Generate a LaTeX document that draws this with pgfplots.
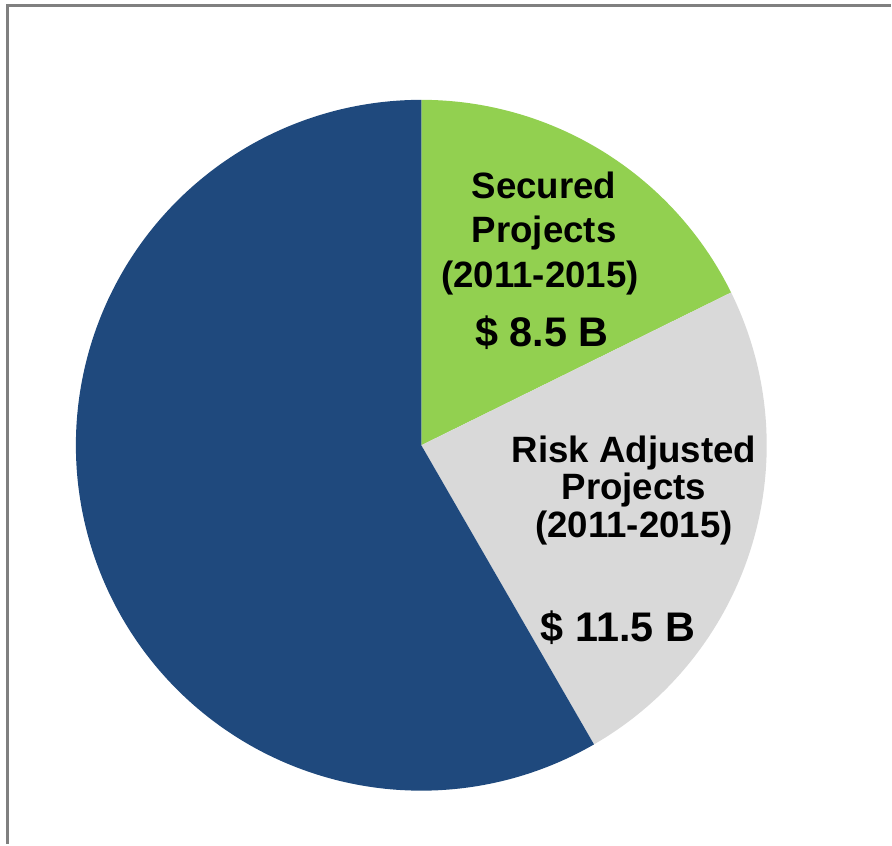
\documentclass[border=0pt]{standalone}
\usepackage{pgfplots}
\usepackage{pgfplotstable}
\pgfplotsset{compat=1.18}
\usepackage{fontspec}
\setmainfont{Liberation Sans}

\definecolor{securedgreen}{HTML}{92D050}
\definecolor{riskgray}{HTML}{D9D9D9}
\definecolor{basenavy}{HTML}{1F497D}
\definecolor{framegray}{HTML}{808080}

% Project value split, billions of dollars
\pgfplotstableread{
segment value
Secured 8.5
RiskAdjusted 11.5
Remaining 28.0
}\piedata

\begin{document}
\begin{tikzpicture}
% slice values and their cumulative angles (clockwise from 12 o'clock)
\pgfplotstablegetelem{0}{value}\of\piedata \let\vA\pgfplotsretval
\pgfplotstablegetelem{1}{value}\of\piedata \let\vB\pgfplotsretval
\pgfplotstablegetelem{2}{value}\of\piedata \let\vC\pgfplotsretval
\pgfmathsetmacro\total{\vA+\vB+\vC}
\pgfmathsetmacro\angA{90}
\pgfmathsetmacro\angB{\angA-360*\vA/\total}
\pgfmathsetmacro\angC{\angB-360*\vB/\total}
\pgfmathsetmacro\angD{\angC-360*\vC/\total}
\def\cx{422}
\def\cy{399}
\def\rr{346}
\begin{axis}[
  x=0.5pt, y=0.5pt,
  xmin=0, xmax=892, ymin=0, ymax=845,
  hide axis, clip=false,
  scale only axis,
]
% pie slices
\addplot[fill=securedgreen, draw=none, domain=\angB:\angA, samples=120, variable=\t]
  ({\cx+\rr*cos(\t)}, {\cy+\rr*sin(\t)}) -- (axis cs:\cx,\cy) -- cycle;
\addplot[fill=riskgray, draw=none, domain=\angC:\angB, samples=120, variable=\t]
  ({\cx+\rr*cos(\t)}, {\cy+\rr*sin(\t)}) -- (axis cs:\cx,\cy) -- cycle;
\addplot[fill=basenavy, draw=none, domain=\angD:\angC, samples=240, variable=\t]
  ({\cx+\rr*cos(\t)}, {\cy+\rr*sin(\t)}) -- (axis cs:\cx,\cy) -- cycle;

% frame along top and left
\draw[framegray, line width=1.5pt] (axis cs:7.5,0) -- (axis cs:7.5,839.5) -- (axis cs:892,839.5);

% slice labels
\begin{scope}[every node/.style={anchor=base, inner sep=0pt, font=\fontsize{18.35}{22}\selectfont\bfseries}]
\node at (axis cs:545,646) {Secured};
\node at (axis cs:545,602) {Projects};
\node at (axis cs:541,557) {(2011-2015)};
\node[font=\fontsize{20.7}{24}\selectfont\bfseries] at (axis cs:543,498) {\$ 8.5 B};
\node at (axis cs:635,382) {Risk Adjusted};
\node at (axis cs:635,345) {Projects};
\node at (axis cs:635,307) {(2011-2015)};
\node[font=\fontsize{20.7}{24}\selectfont\bfseries] at (axis cs:619,202) {\$ 11.5 B};
\end{scope}

\path (axis cs:0,0) rectangle (axis cs:892,845);
\end{axis}
\useasboundingbox (0,0) rectangle (446pt,422.5pt);
\end{tikzpicture}
\end{document}
